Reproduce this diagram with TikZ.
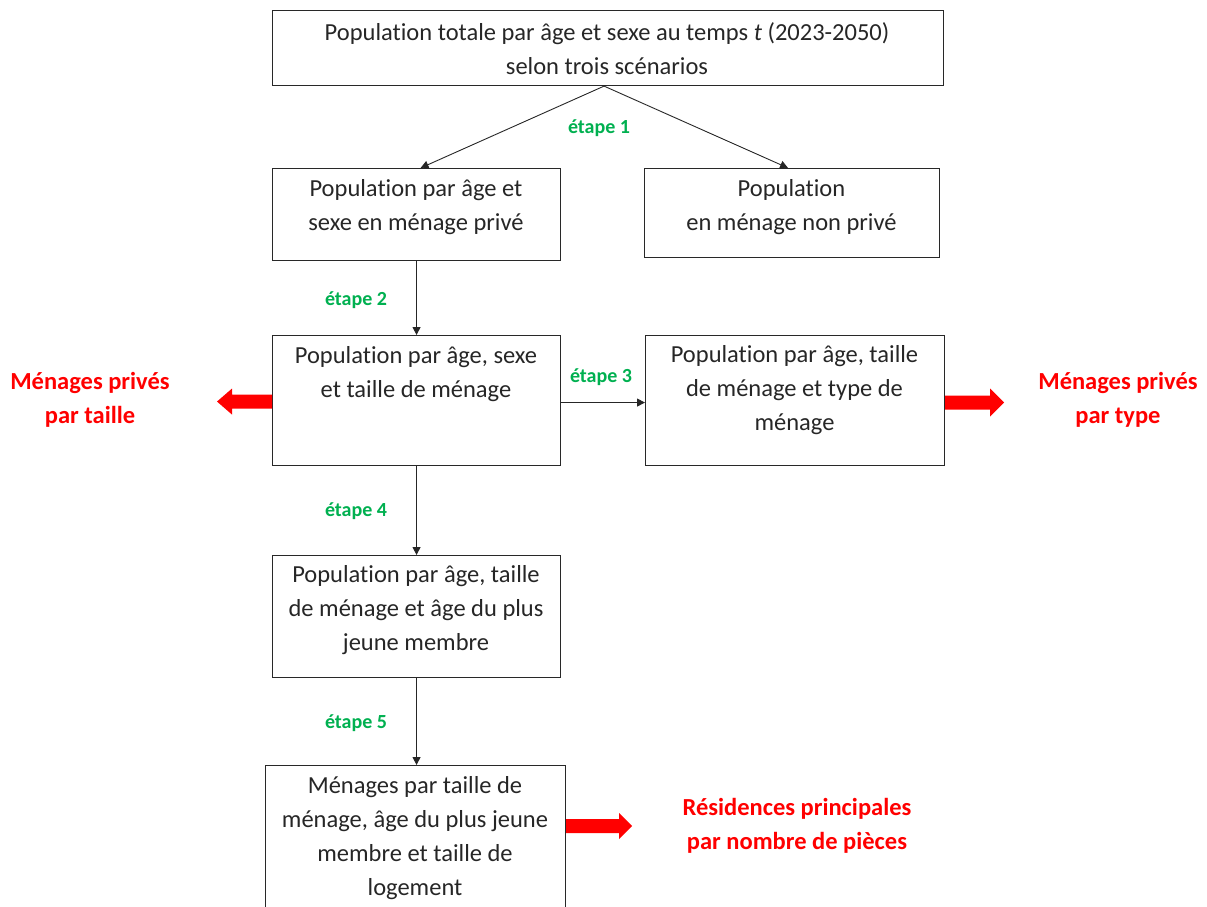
\documentclass[tikz,border=0pt]{standalone}
\usepackage{fontspec}
\setmainfont[Ligatures=NoCommon]{Carlito}
\usetikzlibrary{arrows.meta,calc}
\definecolor{stepgreen}{RGB}{0,176,80}
\definecolor{boxline}{RGB}{40,40,40}
\tikzset{
  box/.style={draw=boxline, line width=1.1pt, inner sep=0pt, anchor=north west},
  txt/.style={align=center, inner sep=0pt, font=\fontsize{24.5}{34}\selectfont, text=black!85},
  steplabel/.style={inner sep=0pt, font=\bfseries\fontsize{20}{24}\selectfont, text=stepgreen},
  outlabel/.style={align=center, inner sep=0pt, font=\bfseries\fontsize{24.5}{34}\selectfont, text=red},
  conn/.style={draw=black!85, line width=0.9pt, -{Triangle[width=8pt,length=8pt]}},
  bigarrow/.style={fill=red, draw=none}
}
\begin{document}
\begin{tikzpicture}[x=1pt,y=-1pt]
\useasboundingbox (0,0) rectangle (1207,906);
\clip (0,0) rectangle (1207,906);
% boxes
\node[box, minimum width=671pt, minimum height=75pt] (top) at (272,10) {};
\node[box, minimum width=288pt, minimum height=92pt] (a) at (272,168) {};
\node[box, minimum width=295pt, minimum height=89pt] (b) at (644,168) {};
\node[box, minimum width=288pt, minimum height=130pt] (c) at (272,335) {};
\node[box, minimum width=299pt, minimum height=130pt] (d) at (645,335) {};
\node[box, minimum width=288pt, minimum height=122pt] (e) at (272,555) {};
\node[box, minimum width=300pt, minimum height=160pt] (f) at (265,765) {};
% texts
\node[txt] (ttop) at (607,48.5) {Population totale par âge et sexe au temps \textit{t} (2023-2050)\\selon trois scénarios};
\node[txt] (ta) at (416,207) {Population par âge et\\sexe en ménage privé};
\node[txt] (tb) at (791.5,207) {Population\\en ménage non privé};
\node[txt] (tc) at (416,374) {Population par âge, sexe\\et taille de ménage};
\node[txt] (td) at (794.5,390) {Population par âge, taille\\de ménage et type de\\ménage};
\node[txt] (te) at (416,610) {Population par âge, taille\\de ménage et âge du plus\\jeune membre};
\node[txt] (tf) at (415,838) {Ménages par taille de\\ménage, âge du plus jeune\\membre et taille de\\logement};
% connectors
\draw[conn] ($(top.south)+(-4,0)$) -- ($(a.north)+(4,0)$);
\draw[conn] ($(top.south)+(-4,0)$) -- ($(b.north)+(-4,0)$);
\draw[conn] (a.south) -- (c.north);
\draw[conn] ($(c.east)+(0,2)$) -- ($(d.west)+(0,2)$);
\draw[conn] (c.south) -- (e.north);
\draw[conn] (e.south) -- (e.south |- f.north);
% step labels
\node[steplabel] (s1) at (599,128) {étape 1};
\node[steplabel] (s2) at (356,300) {étape 2};
\node[steplabel] (s3) at (601,377) {étape 3};
\node[steplabel] (s4) at (356,511) {étape 4};
\node[steplabel] (s5) at (356,723) {étape 5};
% red arrows
\coordinate (la) at ($(c.west)+(0,1)$);
\fill[bigarrow] ($(la)+(0,-7)$) -- ++(-40,0) -- ++(0,-6) -- ($(la)+(-55,0)$) -- ($(la)+(-40,13)$) -- ++(0,-6) -- ($(la)+(0,7)$) -- cycle;
\coordinate (ra) at ($(d.east)+(0,2)$);
\fill[bigarrow] ($(ra)+(0,-7)$) -- ++(45,0) -- ++(0,-7) -- ($(ra)+(59,0)$) -- ($(ra)+(45,14)$) -- ++(0,-7) -- ($(ra)+(0,7)$) -- cycle;
\coordinate (ba) at (f.east |- 0,826);
\fill[bigarrow] ($(ba)+(0,-7)$) -- ++(53,0) -- ++(0,-6) -- ($(ba)+(66,0)$) -- ($(ba)+(53,13)$) -- ++(0,-6) -- ($(ba)+(0,7)$) -- cycle;
% outcome labels
\node[outlabel] (oleft) at (90,399.5) {Ménages privés\\par taille};
\node[outlabel] (oright) at (1118,399.5) {Ménages privés\\par type};
\node[outlabel] (obottom) at (797,826) {Résidences principales\\par nombre de pièces};
\end{tikzpicture}
\end{document}
